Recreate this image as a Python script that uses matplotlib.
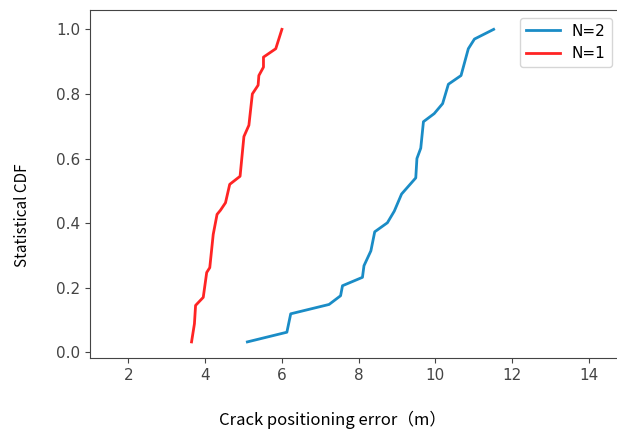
import matplotlib
matplotlib.use("Agg")
import matplotlib.pyplot as plt

# N=2 curve (blue)
err_n2 = [5.10, 6.13, 6.23, 7.23, 7.53, 7.58, 8.10, 8.14, 8.32, 8.42, 8.75, 8.93,
          9.12, 9.49, 9.52, 9.62, 9.69, 9.97, 10.19, 10.34, 10.67, 10.86, 11.02, 11.52]
cdf_n2 = [0.032, 0.062, 0.119, 0.148, 0.175, 0.206, 0.232, 0.268, 0.314, 0.373, 0.401, 0.437,
          0.490, 0.540, 0.600, 0.632, 0.714, 0.739, 0.770, 0.830, 0.857, 0.940, 0.970, 1.0]

# N=1 curve (red)
err_n1 = [3.645, 3.72, 3.75, 3.95, 4.04, 4.12, 4.21, 4.31, 4.40, 4.53, 4.64, 4.91,
          5.01, 5.14, 5.23, 5.38, 5.40, 5.52, 5.52, 5.84, 6.0]
cdf_n1 = [0.032, 0.088, 0.145, 0.170, 0.247, 0.262, 0.365, 0.427, 0.44, 0.463, 0.52, 0.545,
          0.668, 0.703, 0.80, 0.827, 0.857, 0.883, 0.914, 0.94, 1.0]

xticks = [2, 4, 6, 8, 10, 12, 14]
yticks = [0.0, 0.2, 0.4, 0.6, 0.8, 1.0]

fig = plt.figure(figsize=(6.17, 4.34), dpi=100)
ax = fig.add_axes([0.146, 0.175, 0.858, 0.802])

ax.plot(err_n2, cdf_n2, color="#1a8cc6", lw=2, label="N=2")
ax.plot(err_n1, cdf_n1, color="#ff2424", lw=2, label="N=1")

ax.set_xlim(1.0, 14.8)
ax.set_ylim(-0.018, 1.06)
ax.set_xticks(xticks)
ax.set_yticks(yticks)
ax.set_yticklabels([f"{v:.1f}" for v in yticks])
ax.tick_params(labelsize=11, colors="#444444", labelcolor="#444444")
for s in ax.spines.values():
    s.set_color("#444444")

cjk = ["Noto Sans CJK SC", "DejaVu Sans"]
ax.set_xlabel("Crack positioning error（m）", fontsize=12, family=cjk, va="center")
ax.xaxis.set_label_coords(0.457, -0.178)
ax.set_ylabel("Statistical CDF", fontsize=11, family=cjk, va="center")
ax.yaxis.set_label_coords(-0.127, 0.41)

leg = ax.legend(loc="upper right", fontsize=11, handlelength=2.2)
leg.get_frame().set_edgecolor("#cccccc")

fig.savefig("out.png", dpi=100)
